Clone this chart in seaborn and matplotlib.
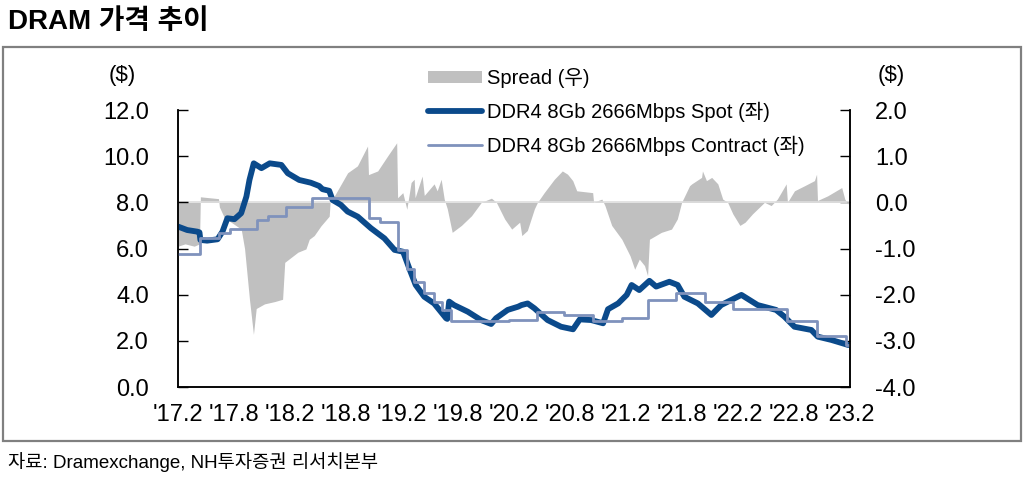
import matplotlib
matplotlib.use('Agg')
import matplotlib.pyplot as plt
from matplotlib.patches import Rectangle, Patch
from matplotlib.lines import Line2D
import seaborn as sns
import pandas as pd

# ---------------- data ----------------
spot_dates = ['2017-02-01','2017-03-03','2017-04-05','2017-04-12','2017-04-15','2017-05-07','2017-06-10','2017-06-26',
              '2017-07-12','2017-08-04','2017-08-26','2017-09-12','2017-09-22','2017-10-06','2017-10-31','2017-11-27',
              '2018-01-04','2018-01-25','2018-03-03','2018-04-10','2018-05-07','2018-05-18','2018-06-09','2018-06-20',
              '2018-07-17','2018-08-08','2018-09-10','2018-10-23','2018-12-06','2019-01-08','2019-02-05','2019-02-27',
              '2019-03-18','2019-04-15','2019-05-17','2019-06-08','2019-06-25','2019-06-29','2019-07-05','2019-07-21',
              '2019-09-04','2019-10-17','2019-11-19','2019-12-05','2020-01-12','2020-02-15','2020-02-26','2020-03-17',
              '2020-04-08','2020-05-21','2020-07-04','2020-08-12','2020-09-03','2020-10-10','2020-11-18','2020-12-04',
              '2021-01-06','2021-02-03','2021-02-19','2021-03-16','2021-04-18','2021-05-10','2021-06-22','2021-07-19',
              '2021-08-10','2021-09-23','2021-11-06','2021-12-08','2022-02-12','2022-04-06','2022-06-05','2022-07-02',
              '2022-08-04','2022-09-28','2022-10-19','2022-12-02','2023-01-26']
spot_price = [6.95, 6.8, 6.73, 6.7, 6.37, 6.34, 6.4, 6.73,
              7.31, 7.27, 7.53, 8.25, 8.97, 9.69, 9.48, 9.69,
              9.62, 9.26, 8.97, 8.85, 8.71, 8.57, 8.5, 8.1,
              7.89, 7.6, 7.38, 6.88, 6.44, 5.94, 5.86, 5.07,
              4.42, 3.91, 3.62, 3.26, 2.98, 2.95, 3.7, 3.55,
              3.26, 2.9, 2.73, 2.98, 3.34, 3.48, 3.55, 3.62,
              3.41, 2.9, 2.61, 2.5, 2.93, 2.9, 2.76, 3.37,
              3.62, 3.99, 4.42, 4.2, 4.6, 4.35, 4.56, 4.42,
              3.91, 3.62, 3.12, 3.55, 3.99, 3.55, 3.34, 3.05,
              2.61, 2.47, 2.18, 2.04, 1.82]

contract_dates = ['2017-02-01','2017-04-15','2017-06-16','2017-07-20','2017-10-15','2017-11-20','2018-01-20','2018-04-15',
                  '2018-10-18','2018-11-20','2019-01-18','2019-02-17','2019-03-12','2019-04-15','2019-05-17','2019-06-12',
                  '2019-07-12','2019-10-15','2020-01-15','2020-04-15','2020-07-15','2020-10-15','2021-01-18','2021-04-12',
                  '2021-07-15','2021-10-15','2022-01-15','2022-07-12','2022-10-18','2023-01-18','2023-02-01']
contract_price = [5.75, 6.47, 6.65, 6.85, 7.24, 7.41, 7.81, 8.17,
                  7.31, 7.16, 5.94, 5.1, 4.56, 4.06, 3.7, 3.34,
                  2.85, 2.88, 2.92, 3.26, 3.12, 2.87, 2.98, 3.77,
                  4.09, 3.7, 3.4, 2.88, 2.2, 1.8, 1.8]

spread_dates = ['2017-02-01','2017-02-24','2017-03-26','2017-04-12','2017-04-15','2017-05-14','2017-06-13','2017-06-16',
                '2017-07-02','2017-08-26','2017-09-06','2017-09-22','2017-10-05','2017-10-14','2017-11-10','2017-12-13',
                '2018-01-08','2018-01-15','2018-02-27','2018-03-25','2018-04-05','2018-04-21','2018-05-13','2018-06-09',
                '2018-06-12','2018-06-26','2018-08-08','2018-09-09','2018-10-12','2018-10-15','2018-11-14','2018-12-16',
                '2019-01-15','2019-01-18','2019-02-04','2019-02-17','2019-03-03','2019-03-13','2019-03-16','2019-04-08',
                '2019-04-15','2019-05-17','2019-05-27','2019-06-09','2019-06-19','2019-06-29','2019-07-15','2019-08-14',
                '2019-09-16','2019-10-18','2019-11-20','2019-12-06','2020-01-02','2020-01-25','2020-02-20','2020-02-27',
                '2020-03-16','2020-04-08','2020-04-18','2020-05-10','2020-06-12','2020-07-08','2020-07-25','2020-08-11',
                '2020-08-24','2020-10-15','2020-10-18','2020-11-14','2020-11-24','2020-12-16','2021-01-18','2021-02-14',
                '2021-03-01','2021-03-16','2021-04-02','2021-04-12','2021-04-18','2021-05-27','2021-06-29','2021-07-18',
                '2021-08-01','2021-08-27','2021-09-03','2021-10-05','2021-10-08','2021-10-21','2021-11-07','2021-11-27',
                '2021-12-13','2021-12-29','2022-01-15','2022-02-07','2022-02-24','2022-03-20','2022-04-28','2022-05-20',
                '2022-06-09','2022-07-08','2022-07-12','2022-08-04','2022-09-06','2022-10-08','2022-10-15','2022-10-18',
                '2022-11-20','2023-01-05','2023-01-15','2023-01-25']
spread_value = [-0.95, -0.9, -0.95, -0.9, 0.12, 0.1, 0.08, -0.1,
                -0.33, -0.58, -1.0, -2.1, -2.86, -2.3, -2.2, -2.15,
                -2.1, -1.3, -1.08, -1.01, -0.8, -0.72, -0.51, -0.3,
                0.0, 0.14, 0.64, 0.79, 1.22, 0.6, 0.68, 1.0,
                1.29, 0.1, 0.21, -0.15, 0.43, 0.5, 0.1, 0.57,
                0.15, 0.4, 0.25, 0.5, 0.07, -0.14, -0.65, -0.5,
                -0.29, 0.0, 0.09, 0.0, -0.36, -0.58, -0.43, -0.72,
                -0.61, -0.14, 0.0, 0.21, 0.5, 0.68, 0.61, 0.47,
                0.25, 0.21, 0.0, 0.07, -0.07, -0.5, -0.8, -1.16,
                -1.45, -1.23, -1.37, -1.59, -0.8, -0.65, -0.58, -0.36,
                0.0, 0.36, 0.4, 0.54, 0.68, 0.47, 0.54, 0.4,
                0.07, 0.0, -0.25, -0.5, -0.43, -0.25, 0.0, -0.07,
                0.07, 0.4, 0.0, 0.25, 0.36, 0.47, 0.61, 0.04,
                0.14, 0.32, 0.07, -0.04]

tick_dates = ['2017-02-01','2017-08-01','2018-02-01','2018-08-01','2019-02-01','2019-08-01','2020-02-01',
              '2020-08-01','2021-02-01','2021-08-01','2022-02-01','2022-08-01','2023-02-01']
tick_labels = ["'17.2","'17.8","'18.2","'18.8","'19.2","'19.8","'20.2","'20.8","'21.2","'21.8","'22.2","'22.8","'23.2"]
left_ticks = [0, 2, 4, 6, 8, 10, 12]
right_ticks = [-4, -3, -2, -1, 0, 1, 2]

series_names = ['Spread (우)', 'DDR4 8Gb 2666Mbps Spot (좌)', 'DDR4 8Gb 2666Mbps Contract (좌)']
title_text = 'DRAM 가격 추이'
source_text = '자료: Dramexchange, NH투자증권 리서치본부'

# ---------------- style ----------------
sns.set_style('white')
plt.rcParams['font.family'] = ['Liberation Sans', 'Noto Sans CJK KR']
plt.rcParams['text.color'] = 'black'
plt.rcParams['xtick.color'] = 'black'
plt.rcParams['ytick.color'] = 'black'
plt.rcParams['axes.labelcolor'] = 'black'

SPOT_C = '#0b4a8b'
CONTRACT_C = '#7f92bc'
SPREAD_C = '#c0c0c0'

spot_df = pd.DataFrame({'date': pd.to_datetime(spot_dates), 'price': spot_price})
contract_df = pd.DataFrame({'date': pd.to_datetime(contract_dates), 'price': contract_price})
spread_df = pd.DataFrame({'date': pd.to_datetime(spread_dates), 'value': spread_value})

W, H = 1033, 480
fig = plt.figure(figsize=(W / 100, H / 100), dpi=100)
fig.patch.set_facecolor('white')

ax = fig.add_axes([178 / W, 1 - 387 / H, 672 / W, 277 / H])
ax2 = ax.twinx()

# spread area (right axis)
ax2.fill_between(spread_df['date'], 0, spread_df['value'], color=SPREAD_C, lw=0, zorder=1)
ax2.axhline(0, color='#dedede', lw=1.2, zorder=2)

# lines (left axis)
sns.lineplot(data=spot_df, x='date', y='price', ax=ax, color=SPOT_C, lw=4.2, legend=False,
             solid_capstyle='round', solid_joinstyle='round')
sns.lineplot(data=contract_df, x='date', y='price', ax=ax, color=CONTRACT_C, lw=2.0, legend=False,
             drawstyle='steps-post')

ax.set_zorder(ax2.get_zorder() + 1)
ax.patch.set_visible(False)

xmin, xmax = pd.Timestamp('2017-02-01'), pd.Timestamp('2023-02-01')
ax.set_xlim(xmin, xmax)
ax.set_ylim(0, 12)
ax2.set_ylim(-4, 2)

ax.set_xticks(pd.to_datetime(tick_dates))
ax.set_xticklabels(tick_labels)
ax.set_yticks(left_ticks)
ax.set_yticklabels([f'{v:.1f}' for v in left_ticks])
ax2.set_yticks(right_ticks)
ax2.set_yticklabels([f'{v:.1f}' for v in right_ticks])

ax.set_xlabel('')
ax.set_ylabel('')
ax2.set_ylabel('')

for a in (ax, ax2):
    a.spines['top'].set_visible(False)
    for s in ('left', 'right', 'bottom'):
        a.spines[s].set_color('black')
        a.spines[s].set_linewidth(1.1)
    a.grid(False)

ax.tick_params(axis='x', direction='in', length=7, width=1, color='black', pad=12, labelsize=17)
ax.tick_params(axis='y', direction='in', length=7, width=1, color='black', pad=21, labelsize=17,
               left=True, right=False)
ax2.tick_params(axis='y', direction='in', length=7, width=1, color='black', pad=18, labelsize=17,
                right=True, left=False)
for lab in ax2.get_yticklabels():
    lab.set_horizontalalignment('left')

# unit labels
fig.text(122 / W, 1 - 76 / H, '($)', ha='center', va='center', fontsize=16)
fig.text(891 / W, 1 - 76 / H, '($)', ha='center', va='center', fontsize=16)

# legend
handles = [Patch(facecolor=SPREAD_C, edgecolor='none'),
           Line2D([], [], color=SPOT_C, lw=4.2, solid_capstyle='round'),
           Line2D([], [], color=CONTRACT_C, lw=2.0)]
leg = fig.legend(handles, series_names, loc='upper left', bbox_to_anchor=(428 / W, 1 - 68 / H),
                 frameon=False, fontsize=14.5, handlelength=2.7, handleheight=0.6, handletextpad=0.25,
                 labelspacing=0.68, borderpad=0, borderaxespad=0)

# title, frame, source
fig.text(8 / W, 1 - 22 / H, title_text, ha='left', va='center', fontsize=20, fontweight='bold')
fig.patches.append(Rectangle((3 / W, 1 - 441 / H), 1018 / W, 394 / H, transform=fig.transFigure,
                             fill=False, edgecolor='#808080', lw=1.6))
fig.text(8 / W, 1 - 462 / H, source_text, ha='left', va='center', fontsize=13.5)

fig.savefig('out.png', dpi=100)
